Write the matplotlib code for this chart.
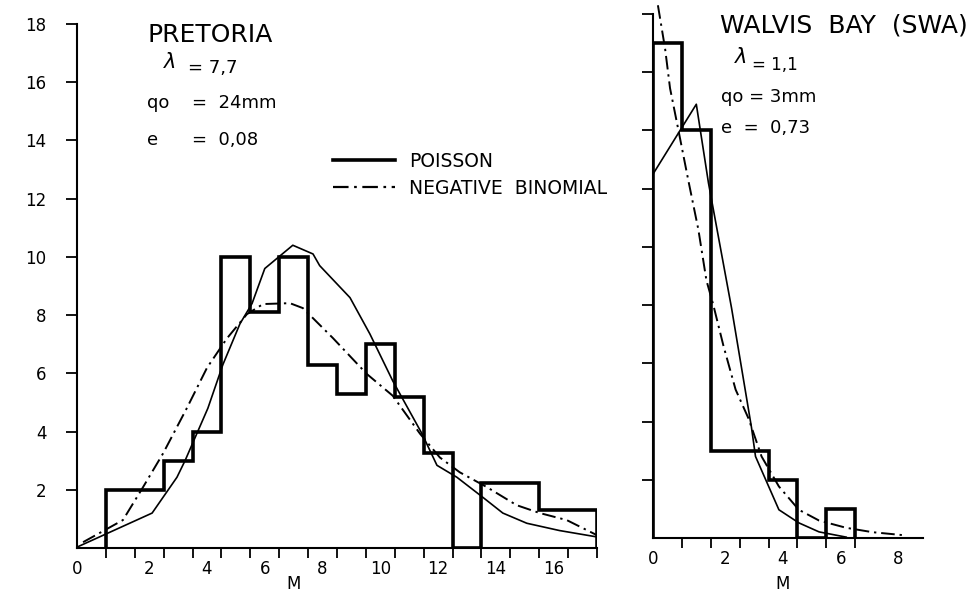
import numpy as np
import matplotlib
matplotlib.use("Agg")
import matplotlib.pyplot as plt
from matplotlib.lines import Line2D

# Pretoria: observed counts per M bin and fitted distributions
pret_edges = [0.5, 2.5, 3.5, 4.5, 5.5, 6.5, 7.5, 8.5, 9.5, 10.5, 11.5, 12.5, 13.5, 15.5, 17.5]
pret_counts = [2, 3, 4, 10, 8.1, 10, 6.3, 5.3, 7, 5.2, 3.25, 0, 2.25, 1.3]
pret_pois_m = [-0.5, 2.1, 2.96, 3.24, 4.03, 4.55, 5.14, 5.56, 6.0, 6.97, 7.67, 7.9,
               8.95, 9.64, 10.43, 11.44, 11.96, 12.65, 13.55, 14.24, 15.07, 16.2, 17.5]
pret_pois = [0.03, 1.2, 2.43, 3.0, 4.8, 6.3, 7.7, 8.4, 9.6, 10.4, 10.1, 9.7,
             8.6, 7.35, 5.74, 3.93, 2.84, 2.43, 1.74, 1.2, 0.85, 0.6, 0.38]
pret_nb_m = [-0.29, 1.09, 1.78, 2.48, 3.31, 4.0, 4.69, 5.38, 5.94, 6.87, 7.32,
             8.36, 9.53, 10.43, 11.37, 12.06, 12.75, 13.69, 14.72, 15.52, 16.45, 17.5]
pret_nb = [0.2, 0.96, 2.08, 3.25, 4.82, 6.19, 7.2, 8.03, 8.38, 8.41, 8.24,
           7.21, 5.98, 5.23, 3.93, 3.11, 2.6, 2.09, 1.47, 1.2, 0.96, 0.44]

# Walvis Bay
walv_edges = [-0.5, 0.5, 1.5, 3.5, 4.5, 5.5, 6.5]
walv_counts = [17, 14, 3, 2, 0, 1]
walv_pois_m = [-0.5, 1.0, 1.42, 2.22, 2.91, 3.05, 3.86, 4.55, 5.25, 6.19]
walv_pois = [12.5, 14.9, 12.2, 7.9, 3.8, 2.8, 0.97, 0.52, 0.21, 0.03]
walv_nb_m = [-0.33, -0.08, 0.09, 0.37, 0.72, 1.07, 1.35, 1.59, 1.94, 2.36,
             2.81, 3.26, 3.86, 4.55, 5.25, 6.19, 7.1, 8.14]
walv_nb = [18.3, 16.8, 15.45, 14.06, 12.3, 10.6, 8.85, 8.0, 6.6, 5.1,
           4.1, 2.8, 1.77, 0.97, 0.6, 0.35, 0.2, 0.1]

y_ticks = [2, 4, 6, 8, 10, 12, 14, 16, 18]
pret_xlabels = ["0", "2", "4", "6", "8", "10", "12", "14", "16"]
walv_xlabels = ["0", "2", "4", "6", "8"]

plt.rcParams["font.family"] = "DejaVu Sans"
DASHDOT = (0, (7, 2.5, 1.2, 2.5))
W, H = 975, 595

fig = plt.figure(figsize=(W / 100, H / 100), dpi=100)


def style_axes(ax, xlim, minor_ticks, label_pos, labels, show_ylabels):
    ax.set_xlim(*xlim)
    ax.set_ylim(0, 18)
    for s in ("top", "right"):
        ax.spines[s].set_visible(False)
    for s in ("left", "bottom"):
        ax.spines[s].set_linewidth(1.5)
    ax.set_xticks(label_pos)
    ax.set_xticklabels(labels)
    ax.set_xticks(minor_ticks, minor=True)
    ax.tick_params(axis="x", which="major", length=0, pad=9, labelsize=12)
    ax.tick_params(axis="x", which="minor", length=7, width=1.3, direction="out")
    ax.set_yticks(y_ticks)
    ax.tick_params(axis="y", length=8, width=1.3, direction="out", pad=14,
                   labelsize=12, labelleft=show_ylabels)


# left panel: Pretoria
ax1 = fig.add_axes([77 / W, 47 / H, 520 / W, 524 / H])
ax1.stairs(pret_counts, pret_edges, baseline=0, color="black", linewidth=2.6)
ax1.plot(pret_pois_m, pret_pois, color="black", linewidth=1.2)
ax1.plot(pret_nb_m, pret_nb, color="black", linewidth=1.4, linestyle=DASHDOT)
style_axes(ax1, (-0.5, 17.5), np.arange(-0.5, 18, 1.0),
           [-0.5, 2, 4, 6, 8, 10, 12, 14, 16], pret_xlabels, True)
ax1.set_xlabel("M", fontsize=12, labelpad=0)
ax1.xaxis.set_label_coords(7.5 / 18, -0.052)

# right panel: Walvis Bay
ax2 = fig.add_axes([653 / W, 57 / H, 270 / W, 524 / H])
ax2.stairs(walv_counts, walv_edges, baseline=0, color="black", linewidth=2.6)
ax2.plot(walv_pois_m, walv_pois, color="black", linewidth=1.2)
ax2.plot(walv_nb_m, walv_nb, color="black", linewidth=1.4, linestyle=DASHDOT,
         clip_on=False)
style_axes(ax2, (-0.5, 8.85), np.arange(-0.5, 7, 1.0),
           [-0.5, 2, 4, 6, 8], walv_xlabels, False)
ax2.set_xlabel("M", fontsize=12, labelpad=0)
ax2.xaxis.set_label_coords(4.5 / 9.35, -0.07)


def ftext(x, y, s, size, **kw):
    fig.text(x / W, 1 - y / H, s, fontsize=size, va="center", ha="left", **kw)


# station annotations
ftext(147, 35, "PRETORIA", 18)
ftext(163, 62, r"$\lambda$", 15)
ftext(188, 68, "= 7,7", 13)
ftext(147, 103, "qo", 13)
ftext(192, 103, "=  24mm", 13)
ftext(147, 140, "e", 13)
ftext(192, 140, "=  0,08", 13)

ftext(720, 25, "WALVIS  BAY  (SWA)", 18)
ftext(734, 57, r"$\lambda$", 15)
ftext(752, 65, "= 1,1", 12)
ftext(721, 97, "qo = 3mm", 13)
ftext(721, 128, "e  =  0,73", 13)

handles = [Line2D([], [], color="black", linewidth=2.6),
           Line2D([], [], color="black", linewidth=1.6, linestyle=DASHDOT)]
fig.legend(handles, ["POISSON", "NEGATIVE  BINOMIAL"], loc="upper left",
           bbox_to_anchor=(333 / W, 1 - 152 / H), frameon=False, fontsize=13.5,
           handlelength=3.3, handletextpad=0.75, labelspacing=0.42, borderpad=0,
           borderaxespad=0)

fig.savefig("out.png", dpi=100)
